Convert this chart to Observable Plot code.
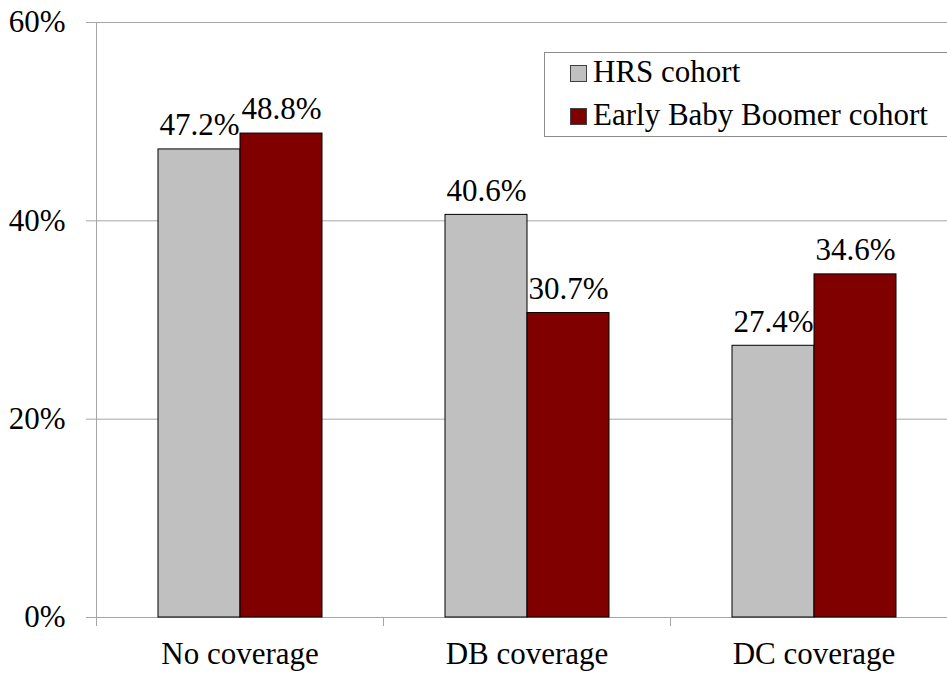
<!DOCTYPE html>
<html><head><meta charset="utf-8">
<script src="https://cdn.jsdelivr.net/npm/d3@7"></script>
<script src="https://cdn.jsdelivr.net/npm/@observablehq/plot@0.6"></script>
<style>
@font-face{font-family:"ChartSerif";src:local("Liberation Serif"),local("LiberationSerif"),local("LiberationSerif-Regular"),local("Liberation Serif Regular"),local("DejaVu Serif"),local("DejaVuSerif");}
html,body{margin:0;padding:0;background:#fff;overflow:hidden;width:947px;height:675px}
#wrap{position:relative;width:947px;height:675px;overflow:hidden;font-family:"Liberation Serif",ChartSerif,"Times New Roman",serif}
#wrap svg{display:block}
.lg-box{position:absolute;left:544px;top:52px;width:500px;height:83px;border:1px solid #8c8c8c;background:#fff}
.lg-sw{position:absolute;width:15px;height:15px;border:1px solid #404040}
.lg-tx{position:absolute;font-size:31px;line-height:31px;white-space:nowrap;color:#000}
</style></head><body><div id="wrap"></div>
<script>
const categories = ["No coverage", "DB coverage", "DC coverage"];
const series = ["HRS cohort", "Early Baby Boomer cohort"];
const hrsValues = [47.2, 40.6, 27.4];
const ebbValues = [48.8, 30.7, 34.6];
const colors = ["#c0c0c0", "#800000"];
const yTicks = [0, 20, 40, 60];

const data = categories.flatMap((c, i) => [
  {category: c, series: series[0], value: hrsValues[i]},
  {category: c, series: series[1], value: ebbValues[i]}
]);

const fontStack = "'Liberation Serif', ChartSerif, 'Times New Roman', serif";
const gray = "#a6a6a6";
const fxRange = [96, 957];
const band = (fxRange[1] - fxRange[0]) / categories.length;

const chart = Plot.plot({
  width: 947, height: 675,
  marginLeft: 96, marginRight: 0, marginTop: 22, marginBottom: 58,
  style: {fontFamily: fontStack, fontSize: "31px", background: "transparent", color: "#000", overflow: "hidden"},
  fx: {domain: categories, range: fxRange, padding: 0, label: null},
  x: {domain: series, paddingInner: 0, paddingOuter: 0.75, axis: null},
  y: {domain: [0, 60], label: null},
  color: {domain: series, range: colors},
  marks: [
    Plot.ruleY(yTicks, {stroke: gray}),
    Plot.frame({anchor: "left", facet: "super", stroke: gray}),
    Plot.axisY({ticks: yTicks, tickSize: 10, text: null, stroke: gray, label: null}),
    Plot.axisY({ticks: yTicks, tickSize: 0, tickPadding: 31, tickFormat: d => d + "%", label: null, fontFamily: fontStack}),
    Plot.axisFx({anchor: "bottom", tickSize: 9, text: null, dx: -band / 2, stroke: gray, label: null}),
    Plot.axisFx({anchor: "bottom", tickSize: 0, tickPadding: 24, label: null, fontFamily: fontStack}),
    Plot.barY(data, {fx: "category", x: "series", y: "value", fill: "series", stroke: "#000", strokeWidth: 1}),
    Plot.text(data, {fx: "category", x: "series", y: "value", text: d => d.value.toFixed(1) + "%", dy: -24, fontFamily: fontStack})
  ]
});

const wrap = document.getElementById("wrap");
wrap.appendChild(chart);

// legend (inside the plot area, as in the original)
const box = document.createElement("div");
box.className = "lg-box";
wrap.appendChild(box);
series.forEach((s, i) => {
  const sw = document.createElement("div");
  sw.className = "lg-sw";
  sw.style.left = "570px";
  sw.style.top = (65 + i * 43) + "px";
  sw.style.background = colors[i];
  wrap.appendChild(sw);
  const tx = document.createElement("div");
  tx.className = "lg-tx";
  tx.style.left = "593px";
  tx.style.top = (56 + i * 43) + "px";
  tx.textContent = s;
  wrap.appendChild(tx);
});
</script>
</body></html>
